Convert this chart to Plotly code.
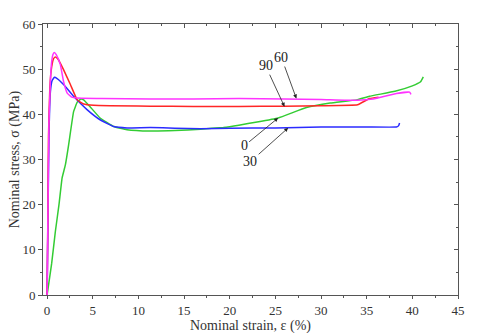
import plotly.graph_objects as go

# strain (%) and stress (MPa) for each orientation
x_0 = [0, 0.5, 0.9, 1.3, 1.64, 2.0, 2.36, 2.9, 3.3, 3.7, 4.0, 4.7, 5.8, 7.3, 8.75, 11.3, 14, 16.8,
       19.3, 21, 23, 25.3, 28.4, 31, 33.9, 35.3, 38.1, 40.0, 40.9, 41.2]
y_0 = [0, 7, 14, 20, 25.9, 28.8, 33.3, 40.6, 42.7, 43.4, 43.2, 41.7, 39.2, 37.3, 36.6, 36.3, 36.4, 36.7,
       37.1, 37.6, 38.3, 39.2, 41.5, 42.5, 43.2, 44.0, 45.1, 46.3, 47.2, 48.3]

x_30 = [0, 0.1, 0.2, 0.36, 0.55, 0.8, 1.1, 1.8, 2.9, 4.4, 5.8, 7.3, 8.75, 11.3, 14, 16.8, 20, 25, 30,
        35, 38.25, 38.5, 38.6]
y_30 = [0, 18, 35, 45, 47.5, 48.2, 47.9, 46.6, 44.0, 41.0, 38.8, 37.3, 37.0, 37.1, 36.9, 36.8, 36.9,
        37.0, 37.2, 37.2, 37.2, 37.5, 38.1]

x_90 = [0, 0.07, 0.15, 0.3, 0.5, 0.7, 0.9, 1.2, 1.8, 2.55, 3.3, 4.0, 5.1, 11.3, 16, 21, 26, 30, 34.0,
        35.3, 36.3]
y_90 = [0, 15, 35, 46, 50.5, 52.3, 52.7, 52.2, 49.9, 46.6, 43.2, 42.3, 42.0, 41.8, 41.75, 41.75, 41.8,
        41.9, 42.1, 43.5, 43.8]

x_60 = [0, 0.1, 0.2, 0.35, 0.5, 0.65, 0.8, 1.0, 1.45, 1.8, 2.2, 2.7, 3.3, 6, 11.3, 16, 21, 26, 30,
        33.9, 35.7, 38.25, 39.7, 39.85]
y_60 = [0, 20, 38, 47, 51.7, 53.3, 53.7, 53.2, 51.0, 47.3, 44.7, 43.8, 43.6, 43.5, 43.4, 43.4, 43.5,
        43.4, 43.3, 43.1, 43.4, 44.6, 44.9, 44.4]

labels = ["90", "60", "0", "30"]
label_x = [26.0, 27.3, 25.3, 26.4]
label_y = [41.7, 43.5, 39.2, 37.0]

series = [
    (x_0, y_0, "#33cc33"),
    (x_30, y_30, "#2b2bff"),
    (x_90, y_90, "#ff2626"),
    (x_60, y_60, "#ff33ff"),
]

font = "Liberation Serif, Times New Roman, serif"

fig = go.Figure()
for xs, ys, col in series:
    fig.add_trace(go.Scatter(x=xs, y=ys, mode="lines", line=dict(color=col, width=1.5, shape="spline", smoothing=0.3),
                             showlegend=False, hoverinfo="skip"))

# dummy trace so the mirrored (top/right) axes get drawn
fig.add_trace(go.Scatter(x=[None], y=[None], xaxis="x2", yaxis="y2", showlegend=False))

# arrow annotations: tail offsets in px
offsets = [(-19, -41), (-15, -41), (-34, 28), (-38, 34)]
for t, ax_, ay_, (dx, dy) in zip(labels, label_x, label_y, offsets):
    fig.add_annotation(x=ax_, y=ay_, text=t, showarrow=True, ax=dx, ay=dy,
                       arrowhead=2, arrowsize=1, arrowwidth=0.8, arrowcolor="#222",
                       font=dict(family=font, size=14, color="#222"))

# axis titles as annotations so they sit where the original has them
fig.add_annotation(text="Nominal stress, σ (MPa)", xref="paper", yref="paper", x=-0.068, y=0.5,
                   textangle=-90, showarrow=False, xanchor="center", yanchor="middle",
                   font=dict(family=font, size=14, color="#333"))
fig.add_annotation(text="Nominal strain, ε (%)", xref="paper", yref="paper", x=0.5, y=-0.115,
                   showarrow=False, xanchor="center", yanchor="middle",
                   font=dict(family=font, size=14, color="#333"))

axis_common = dict(showline=True, linecolor="#555", linewidth=1, showgrid=False, zeroline=False,
                   automargin=False, tickcolor="#555", tickfont=dict(family=font, size=13, color="#333"))

# page body has an 8px margin, so the figure is 8px smaller than the window
fig.update_layout(
    width=472, height=325,
    margin=dict(l=35, r=22, t=16, b=38),
    paper_bgcolor="white", plot_bgcolor="white",
    xaxis=dict(range=[-0.45, 45], dtick=5, ticks="outside", ticklen=3,
               minor=dict(dtick=2.5, ticks="outside", ticklen=2, tickcolor="#555"),
               **axis_common),
    yaxis=dict(range=[0, 60], dtick=10, ticks="outside", ticklen=4,
               minor=dict(dtick=5, ticks="outside", ticklen=2, tickcolor="#555"),
               **axis_common),
    xaxis2=dict(range=[-0.45, 45], dtick=5, ticks="inside", ticklen=4, overlaying="x", side="top",
                showticklabels=False, anchor="y2",
                minor=dict(dtick=2.5, ticks="inside", ticklen=2, tickcolor="#555"), **axis_common),
    yaxis2=dict(range=[0, 60], dtick=10, ticks="inside", ticklen=4, overlaying="y", side="right",
                showticklabels=False, anchor="x2",
                minor=dict(dtick=5, ticks="inside", ticklen=2, tickcolor="#555"), **axis_common),
)

fig.write_html("out.html")
